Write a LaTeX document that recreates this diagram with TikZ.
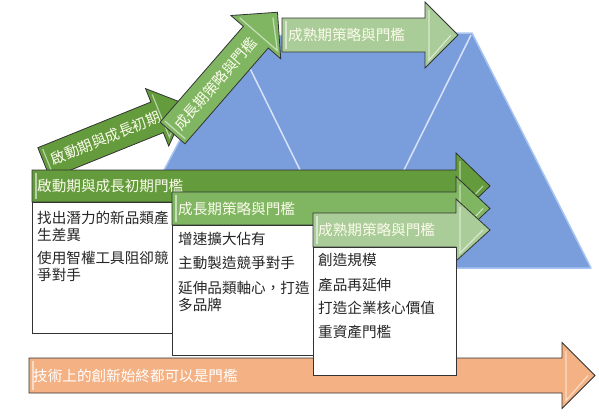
\documentclass[tikz,border=0pt]{standalone}
\usepackage{fontspec}
\newfontfamily\cjk{Noto Sans CJK TC}
\definecolor{gdark}{RGB}{100,155,60}
\definecolor{gmid}{RGB}{128,182,98}
\definecolor{gpale}{RGB}{170,204,152}
\definecolor{blueshape}{RGB}{122,158,220}
\definecolor{blueedge}{RGB}{168,196,240}
\definecolor{foldline}{RGB}{214,226,248}
\definecolor{orangearr}{RGB}{244,177,131}
\definecolor{hltext}{RGB}{252,252,236}
\newcommand{\ArrowShape}[7]{%
  \filldraw[#1] (#2,#5-#6) -- (#3,#5-#6) -- (#3,#5-#7) -- (#4,#5) -- (#3,#5+#7) -- (#3,#5+#6) -- (#2,#5+#6) -- cycle;
  \draw[bevel] (#2+4,#5-#6+3) -- (#2+4,#5+#6-3);
  \draw[bevel] (#3+4,#5-#7+8) -- (#3+4,#5+#7-8) -- (#4-7,#5);
}
\begin{document}
\begin{tikzpicture}[x=1pt,y=-1pt,
  outl/.style={draw=black!80, line width=0.8pt, line join=miter},
  bevel/.style={draw=white, draw opacity=0.55, line width=1.2pt},
  hdr/.style={font=\cjk\fontsize{14.6}{17}\selectfont, text=hltext, anchor=west, inner sep=0pt},
  bodytext/.style={font=\cjk\fontsize{14.6}{17}\selectfont, text=black!85, anchor=west, inner sep=0pt},
  boxbody/.style={draw=black!80, fill=white, line width=0.8pt}]
\useasboundingbox (0,0) rectangle (599,416);

% blue mountain shape
\filldraw[fill=blueshape, draw=blueedge, line width=1.5pt, line join=round]
  (163,172) -- (235,36) -- (472,33) -- (591,268) -- (420,268) -- (420,200) -- (200,200) -- cycle;
\draw[foldline, line width=1.5pt] (235,38) -- (301,172);
\draw[foldline, line width=1.5pt] (471,35) -- (403,172);

% diagonal arrow 1
\begin{scope}[shift={(44,163)}, rotate=22]
  \ArrowShape{fill=gdark, outl}{0}{122}{155}{0}{16.5}{31}
  \node[hdr, rotate=22] (d1) at (8,0) {啟動期與成長初期};
\end{scope}

% diagonal arrow 2
\begin{scope}[shift={(172.5,133)}, rotate=49]
  \ArrowShape{fill=gmid, outl}{0}{127}{160}{0}{16.5}{33}
  \node[hdr, rotate=49] (d2) at (7,0) {成長期策略與門檻};
\end{scope}

% top arrow
\ArrowShape{fill=gpale, outl}{282}{425}{458}{35}{17}{33}
\node[hdr] (d3) at (288,35) {成熟期策略與門檻};

% orange arrow
\ArrowShape{fill=orangearr, outl}{29}{562}{595}{375.5}{17.5}{33}
\node[hdr, text=white] (tech) at (33,375.5) {技術上的創新始終都可以是門檻};

% box 1
\ArrowShape{fill=gdark, outl}{32}{456}{490}{186}{16}{33}
\node[hdr] (h1) at (37,186) {啟動期與成長初期門檻};
\filldraw[boxbody] (32,202) rectangle (250,333);
\node[bodytext] (b1a) at (37,218) {找出潛力的新品類產};
\node[bodytext] (b1b) at (37,235) {生差異};
\node[bodytext] (b1c) at (37,258) {使用智權工具阻卻競};
\node[bodytext] (b1d) at (37,275) {爭對手};

% box 2
\ArrowShape{fill=gmid, outl}{172}{456}{490}{208.5}{16.5}{32}
\node[hdr] (h2) at (178,208.5) {成長期策略與門檻};
\filldraw[boxbody] (172,225) rectangle (400,355);
\node[bodytext] (b2a) at (178,239) {增速擴大佔有};
\node[bodytext] (b2b) at (178,263) {主動製造競爭對手};
\node[bodytext] (b2c) at (178,288) {延伸品類軸心，打造};
\node[bodytext] (b2d) at (178,305) {多品牌};

% box 3
\ArrowShape{fill=gpale, outl}{313}{456}{490}{230}{17}{31}
\node[hdr] (h3) at (318,230) {成熟期策略與門檻};
\filldraw[boxbody] (313,247) rectangle (456,375);
\node[bodytext] (b3a) at (318,260) {創造規模};
\node[bodytext] (b3b) at (318,285) {產品再延伸};
\node[bodytext] (b3c) at (318,308) {打造企業核心價值};
\node[bodytext] (b3d) at (318,332) {重資產門檻};
\end{tikzpicture}
\end{document}
